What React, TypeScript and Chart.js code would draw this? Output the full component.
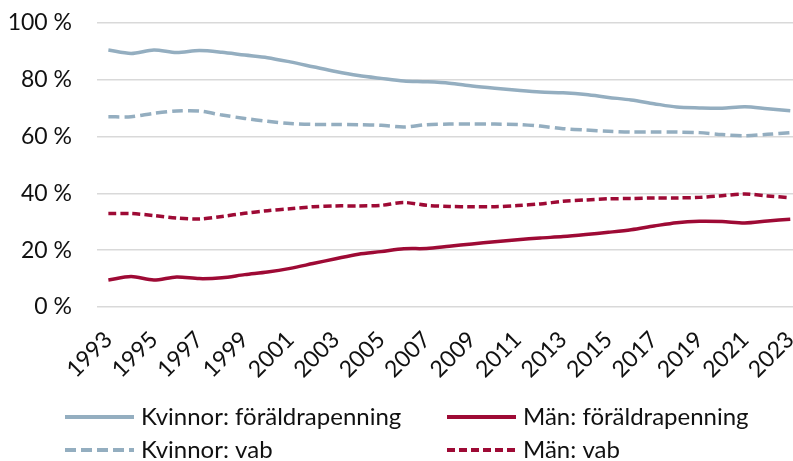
import React, { useEffect, useRef } from "react";
import { Chart, registerables } from "chart.js";

Chart.register(...registerables);

const years = [1993, 1994, 1995, 1996, 1997, 1998, 1999, 2000, 2001, 2002, 2003, 2004, 2005, 2006, 2007, 2008, 2009, 2010, 2011, 2012, 2013, 2014, 2015, 2016, 2017, 2018, 2019, 2020, 2021, 2022, 2023];
const tickYears = [1993, 1995, 1997, 1999, 2001, 2003, 2005, 2007, 2009, 2011, 2013, 2015, 2017, 2019, 2021, 2023];

const kvinnorFp = [90.5, 89.3, 90.5, 89.6, 90.3, 89.7, 88.7, 87.8, 86.3, 84.6, 82.9, 81.5, 80.5, 79.6, 79.3, 78.8, 77.8, 77.0, 76.3, 75.7, 75.4, 74.8, 73.8, 72.9, 71.6, 70.4, 70.1, 70.0, 70.5, 69.8, 69.1];
const manFp = [9.5, 10.7, 9.5, 10.6, 10.0, 10.3, 11.4, 12.3, 13.6, 15.3, 17.0, 18.6, 19.5, 20.5, 20.6, 21.4, 22.2, 23.0, 23.7, 24.3, 24.8, 25.5, 26.3, 27.2, 28.5, 29.7, 30.2, 30.1, 29.6, 30.3, 30.9];
const kvinnorVab = [67.0, 67.0, 68.2, 69.0, 69.0, 67.6, 66.4, 65.4, 64.6, 64.3, 64.3, 64.2, 64.0, 63.4, 64.2, 64.4, 64.4, 64.4, 64.3, 63.7, 62.8, 62.3, 61.9, 61.6, 61.6, 61.6, 61.4, 60.7, 60.3, 60.8, 61.4];
const manVab = [32.9, 32.9, 32.2, 31.3, 31.0, 31.9, 33.0, 33.9, 34.6, 35.3, 35.6, 35.6, 35.8, 36.8, 35.8, 35.4, 35.3, 35.3, 35.7, 36.3, 37.2, 37.7, 38.1, 38.2, 38.4, 38.4, 38.6, 39.2, 39.8, 39.1, 38.5];

const yTicks = [0, 20, 40, 60, 80, 100];

const BLUE = "#94AEC0";
const RED = "#9E0A35";
const FONT = "Lato, 'Open Sans', sans-serif";
const TEXT = "#111111";
const FS = 23;
const LEGEND_FS = 24;

const toPts = (vals: number[]) => vals.map((v, i) => ({ x: years[i], y: v }));

const legendPlugin = {
  id: "gridLegend",
  afterDraw(chart: any) {
    const ctx = chart.ctx;
    const ds = chart.data.datasets;
    const slots = [
      { x: 65, y: 417 },
      { x: 447, y: 417 },
      { x: 65, y: 450 },
      { x: 447, y: 450 },
    ];
    ctx.save();
    ds.forEach((d: any, i: number) => {
      const s = slots[i];
      ctx.beginPath();
      ctx.strokeStyle = d.borderColor;
      ctx.lineWidth = 4;
      ctx.lineCap = "butt";
      ctx.setLineDash(d.borderDash || []);
      ctx.moveTo(s.x, s.y);
      ctx.lineTo(s.x + 69, s.y);
      ctx.stroke();
      ctx.setLineDash([]);
      ctx.fillStyle = TEXT;
      ctx.font = `${LEGEND_FS}px ${FONT}`;
      ctx.textBaseline = "middle";
      ctx.textAlign = "left";
      ctx.fillText(d.label, s.x + 76, s.y);
    });
    ctx.restore();
  },
};

export default function App() {
  const ref = useRef<HTMLCanvasElement | null>(null);
  useEffect(() => {
    if (!ref.current) return;
    const chart = new Chart(ref.current, {
      type: "line",
      data: {
        datasets: [
          { label: "Kvinnor: föräldrapenning", data: toPts(kvinnorFp), borderColor: BLUE, backgroundColor: BLUE, borderWidth: 3.5, pointRadius: 0, tension: 0.3 },
          { label: "Män: föräldrapenning", data: toPts(manFp), borderColor: RED, backgroundColor: RED, borderWidth: 3.5, pointRadius: 0, tension: 0.3 },
          { label: "Kvinnor: vab", data: toPts(kvinnorVab), borderColor: BLUE, backgroundColor: BLUE, borderWidth: 3.5, pointRadius: 0, tension: 0.3, borderDash: [11, 5] },
          { label: "Män: vab", data: toPts(manVab), borderColor: RED, backgroundColor: RED, borderWidth: 3.5, pointRadius: 0, tension: 0.3, borderDash: [8, 4] },
        ],
      },
      options: {
        responsive: false,
        animation: false,
        layout: { padding: { top: 23, right: 0, bottom: 74, left: 0 } },
        plugins: { legend: { display: false }, tooltip: { enabled: false } },
        scales: {
          x: {
            type: "linear",
            min: 1992.5,
            max: 2023.12,
            grid: { display: false },
            border: { display: false },
            afterBuildTicks: (scale: any) => {
              scale.ticks = tickYears.map((v) => ({ value: v }));
            },
            afterFit: (scale: any) => {
              scale.paddingLeft = 0;
              scale.paddingRight = 0;
              scale.height = 80;
            },
            ticks: {
              autoSkip: false,
              minRotation: 45,
              maxRotation: 45,
              padding: 11,
              color: TEXT,
              font: { family: FONT, size: FS },
              callback: (v: any) => String(v),
            },
          },
          y: {
            min: 0,
            max: 100,
            afterBuildTicks: (scale: any) => {
              scale.ticks = yTicks.map((v) => ({ value: v }));
            },
            afterFit: (scale: any) => {
              scale.width = 97;
              scale.paddingTop = 0;
              scale.paddingBottom = 0;
            },
            border: { display: false },
            grid: { color: "#D9D9D9", lineWidth: 1.5, drawTicks: false },
            ticks: {
              padding: 25,
              color: TEXT,
              font: { family: FONT, size: FS },
              callback: (v: any) => `${v} %`,
            },
          },
        },
      },
      plugins: [legendPlugin],
    });
    return () => chart.destroy();
  }, []);
  return (
    <div style={{ position: "fixed", left: 0, top: 0, width: 793, height: 461, background: "#fff" }}>
      <canvas ref={ref} width={793} height={461} />
    </div>
  );
}
